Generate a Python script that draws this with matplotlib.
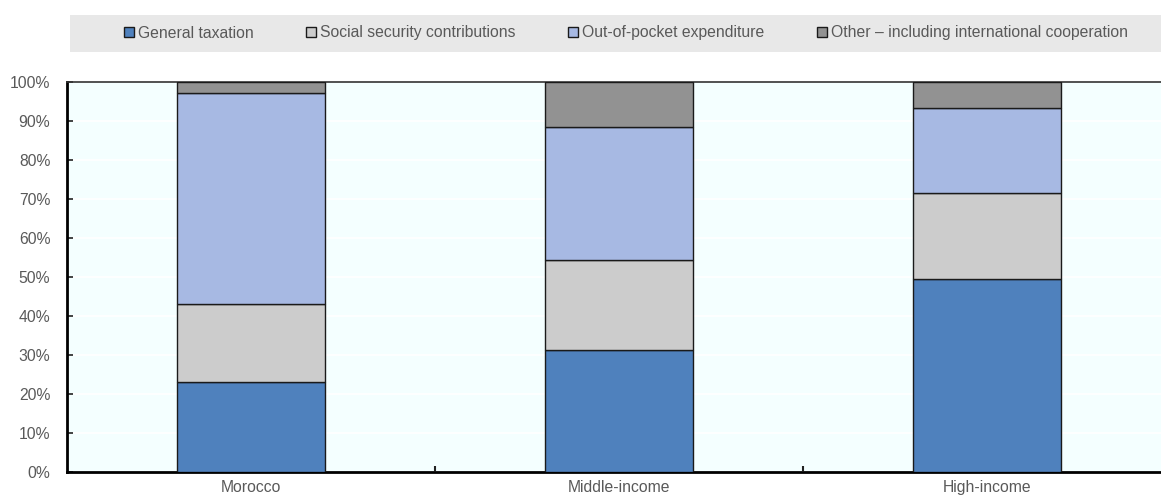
import matplotlib.pyplot as plt
from matplotlib.patches import Rectangle
from matplotlib.ticker import PercentFormatter

groups = ['Morocco', 'Middle-income', 'High-income']
series = ['General taxation', 'Social security contributions',
          'Out-of-pocket expenditure', 'Other \u2013 including international cooperation']
general_tax = [23.0, 31.3, 49.6]
social_sec = [20.1, 23.0, 22.0]
out_of_pocket = [54.0, 34.2, 21.8]
other = [2.9, 11.5, 6.6]
colors = ['#4F81BD', '#CCCCCC', '#A7B9E3', '#929292']

plt.rcParams['font.family'] = ['Liberation Sans', 'DejaVu Sans']
fs = 11.3
text_col = '#595959'

fig = plt.figure(figsize=(11.61, 4.96), dpi=100)
ax = fig.add_axes([67 / 1161, 1 - 472 / 496, 1104 / 1161, 390 / 496])
ax.set_facecolor('#F4FFFF')

x = list(range(len(groups)))
bottom = [0.0] * len(groups)
for vals, name, col in zip([general_tax, social_sec, out_of_pocket, other], series, colors):
    ax.bar(x, vals, width=0.4, bottom=bottom, color=col, edgecolor='#1a1a1a',
           linewidth=1.0, label=name, zorder=3)
    bottom = [b + v for b, v in zip(bottom, vals)]

ax.set_xlim(-0.5, 2.5)
ax.set_ylim(0, 100)
ax.set_yticks(range(0, 101, 10))
ax.yaxis.set_major_formatter(PercentFormatter(decimals=0))
ax.grid(axis='y', color='white', linewidth=1.2, zorder=0)

# category labels centred on bars, ticks on the boundaries between groups
ax.set_xticks(x)
ax.set_xticklabels(groups)
ax.set_xticks([0.5, 1.5], minor=True)
ax.tick_params(axis='x', which='major', length=0, pad=6, colors=text_col, labelsize=fs)
ax.tick_params(axis='x', which='minor', length=4, width=1.5, color='#222222', direction='in')
ax.tick_params(axis='y', length=4, width=1.2, color='#222222', direction='in',
               colors=text_col, pad=12, labelsize=fs)

for side in ['left', 'bottom']:
    ax.spines[side].set_linewidth(2.0)
    ax.spines[side].set_color('black')
ax.spines['top'].set_color('#333333')
ax.spines['top'].set_linewidth(1.2)
ax.spines['right'].set_visible(False)

# grey band behind the legend
fig.patches.append(Rectangle((70 / 1161, 1 - 52 / 496), 1091 / 1161, 37 / 496,
                             transform=fig.transFigure, facecolor='#E8E8E8',
                             edgecolor='none', zorder=0))
handles, labels = ax.get_legend_handles_labels()
leg = fig.legend(handles, labels, loc='center', bbox_to_anchor=(626 / 1161, 1 - 33 / 496),
                 ncol=4, frameon=False, handlelength=0.65, handleheight=0.65,
                 handletextpad=0.25, columnspacing=3.35, fontsize=fs)
for t in leg.get_texts():
    t.set_color(text_col)

fig.savefig('out.png', dpi=100)
